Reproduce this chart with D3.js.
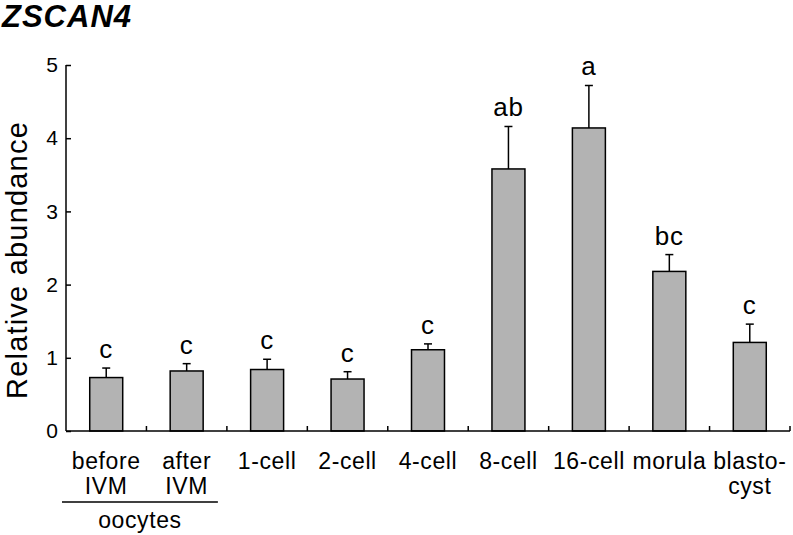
<!DOCTYPE html>
<html>
<head>
<meta charset="utf-8">
<script src="https://cdn.jsdelivr.net/npm/d3@7"></script>
<style>
  html, body { margin: 0; padding: 0; background: #fff; }
  svg { display: block; font-family: "Liberation Sans", Arial, Helvetica, sans-serif; }
</style>
</head>
<body>
<svg id="chart" width="793" height="535"></svg>
<script>
const categories = ["before IVM", "after IVM", "1-cell", "2-cell", "4-cell", "8-cell", "16-cell", "morula", "blastocyst"];
const labelLines = [["before", "IVM"], ["after", "IVM"], ["1-cell"], ["2-cell"], ["4-cell"], ["8-cell"], ["16-cell"], ["morula"], ["blasto-", "cyst"]];
const means = [0.73, 0.82, 0.84, 0.71, 1.11, 3.58, 4.14, 2.18, 1.21];
const sems = [0.13, 0.10, 0.14, 0.10, 0.08, 0.58, 0.58, 0.23, 0.25];
const letters = ["c", "c", "c", "c", "c", "ab", "a", "bc", "c"];
const yTicks = [0, 1, 2, 3, 4, 5];
const groupLabel = "oocytes";
const groupMembers = ["before IVM", "after IVM"];
const title = "ZSCAN4";
const yTitle = "Relative abundance";

(function () {
const svg = d3.select("#chart");
const mLeft = 66, mRight = 790, mTop = 65, mBottom = 431;

const x = d3.scaleBand().domain(categories).range([mLeft, mRight]).paddingInner(0.59).paddingOuter(0.295);
const y = d3.scaleLinear().domain([0, 5]).range([mBottom, mTop]);

// title
svg.append("text").attr("x", 2).attr("y", 27)
  .attr("font-size", 31).attr("font-weight", "bold").attr("font-style", "italic")
  .attr("letter-spacing", 1)
  .text(title);

// y axis title
svg.append("text")
  .attr("transform", `translate(27, ${(mTop + mBottom) / 2 + 12}) rotate(-90)`)
  .attr("text-anchor", "middle").attr("font-size", 29).attr("letter-spacing", 1.2)
  .text(yTitle);

// bars
const g = svg.append("g");
g.selectAll("rect.bar").data(categories).join("rect")
  .attr("class", "bar")
  .attr("x", d => x(d))
  .attr("width", x.bandwidth())
  .attr("y", (d, i) => y(means[i]))
  .attr("height", (d, i) => y(0) - y(means[i]))
  .attr("fill", "#b3b3b3").attr("stroke", "#000").attr("stroke-width", 1.5);

// error bars
const cap = 4;
g.selectAll("line.err").data(categories).join("line")
  .attr("class", "err")
  .attr("x1", d => x(d) + x.bandwidth() / 2).attr("x2", d => x(d) + x.bandwidth() / 2)
  .attr("y1", (d, i) => y(means[i])).attr("y2", (d, i) => y(means[i] + sems[i]))
  .attr("stroke", "#000").attr("stroke-width", 1.5);
g.selectAll("line.cap").data(categories).join("line")
  .attr("class", "cap")
  .attr("x1", d => x(d) + x.bandwidth() / 2 - cap).attr("x2", d => x(d) + x.bandwidth() / 2 + cap)
  .attr("y1", (d, i) => y(means[i] + sems[i])).attr("y2", (d, i) => y(means[i] + sems[i]))
  .attr("stroke", "#000").attr("stroke-width", 1.5);

// significance letters
g.selectAll("text.sig").data(categories).join("text")
  .attr("class", "sig")
  .attr("x", d => x(d) + x.bandwidth() / 2)
  .attr("y", (d, i) => y(means[i] + sems[i]) - 10)
  .attr("text-anchor", "middle").attr("font-size", 26).attr("letter-spacing", 0.8)
  .text((d, i) => letters[i]);

// y axis
const yAxis = svg.append("g").attr("transform", `translate(${mLeft},0)`)
  .call(d3.axisLeft(y).tickValues(yTicks).tickFormat(d3.format("d")).tickSize(-5).tickPadding(8));
yAxis.select(".domain").attr("stroke-width", 1.5).attr("d", `M0,${mTop}V${mBottom}`);
yAxis.selectAll(".tick line").attr("stroke-width", 1.5);
yAxis.selectAll(".tick text").attr("font-size", 21).attr("font-family", "Liberation Sans, Arial, sans-serif").attr("fill", "#000");

// x axis
const step = x.step();
const xa = svg.append("g");
xa.append("line").attr("x1", mLeft).attr("x2", mRight).attr("y1", mBottom).attr("y2", mBottom)
  .attr("stroke", "#000").attr("stroke-width", 1.5);
xa.selectAll("line.xt").data(d3.range(1, categories.length + 1)).join("line")
  .attr("class", "xt")
  .attr("x1", i => x.range()[0] + i * step).attr("x2", i => x.range()[0] + i * step)
  .attr("y1", mBottom).attr("y2", mBottom - 5)
  .attr("stroke", "#000").attr("stroke-width", 1.5);

const xl = xa.selectAll("text.xl").data(categories).join("text")
  .attr("class", "xl")
  .attr("text-anchor", "middle").attr("font-size", 23).attr("letter-spacing", 0.6);
xl.each(function (d, i) {
  const t = d3.select(this);
  labelLines[i].forEach((ln, k) => {
    t.append("tspan").attr("x", x(d) + x.bandwidth() / 2).attr("y", 469 + k * 25).text(ln);
  });
});

// group bracket
const outer = x.step() * x.paddingOuter();
const gx0 = x(groupMembers[0]) - outer - 4;
const gx1 = x(groupMembers[1]) + x.bandwidth() + outer - 9;
xa.append("line").attr("x1", gx0).attr("x2", gx1).attr("y1", 502).attr("y2", 502)
  .attr("stroke", "#000").attr("stroke-width", 1.5);
xa.append("text").attr("x", (gx0 + gx1) / 2).attr("y", 528)
  .attr("text-anchor", "middle").attr("font-size", 23).attr("letter-spacing", 0.6)
  .text(groupLabel);
})();
</script>
</body>
</html>
